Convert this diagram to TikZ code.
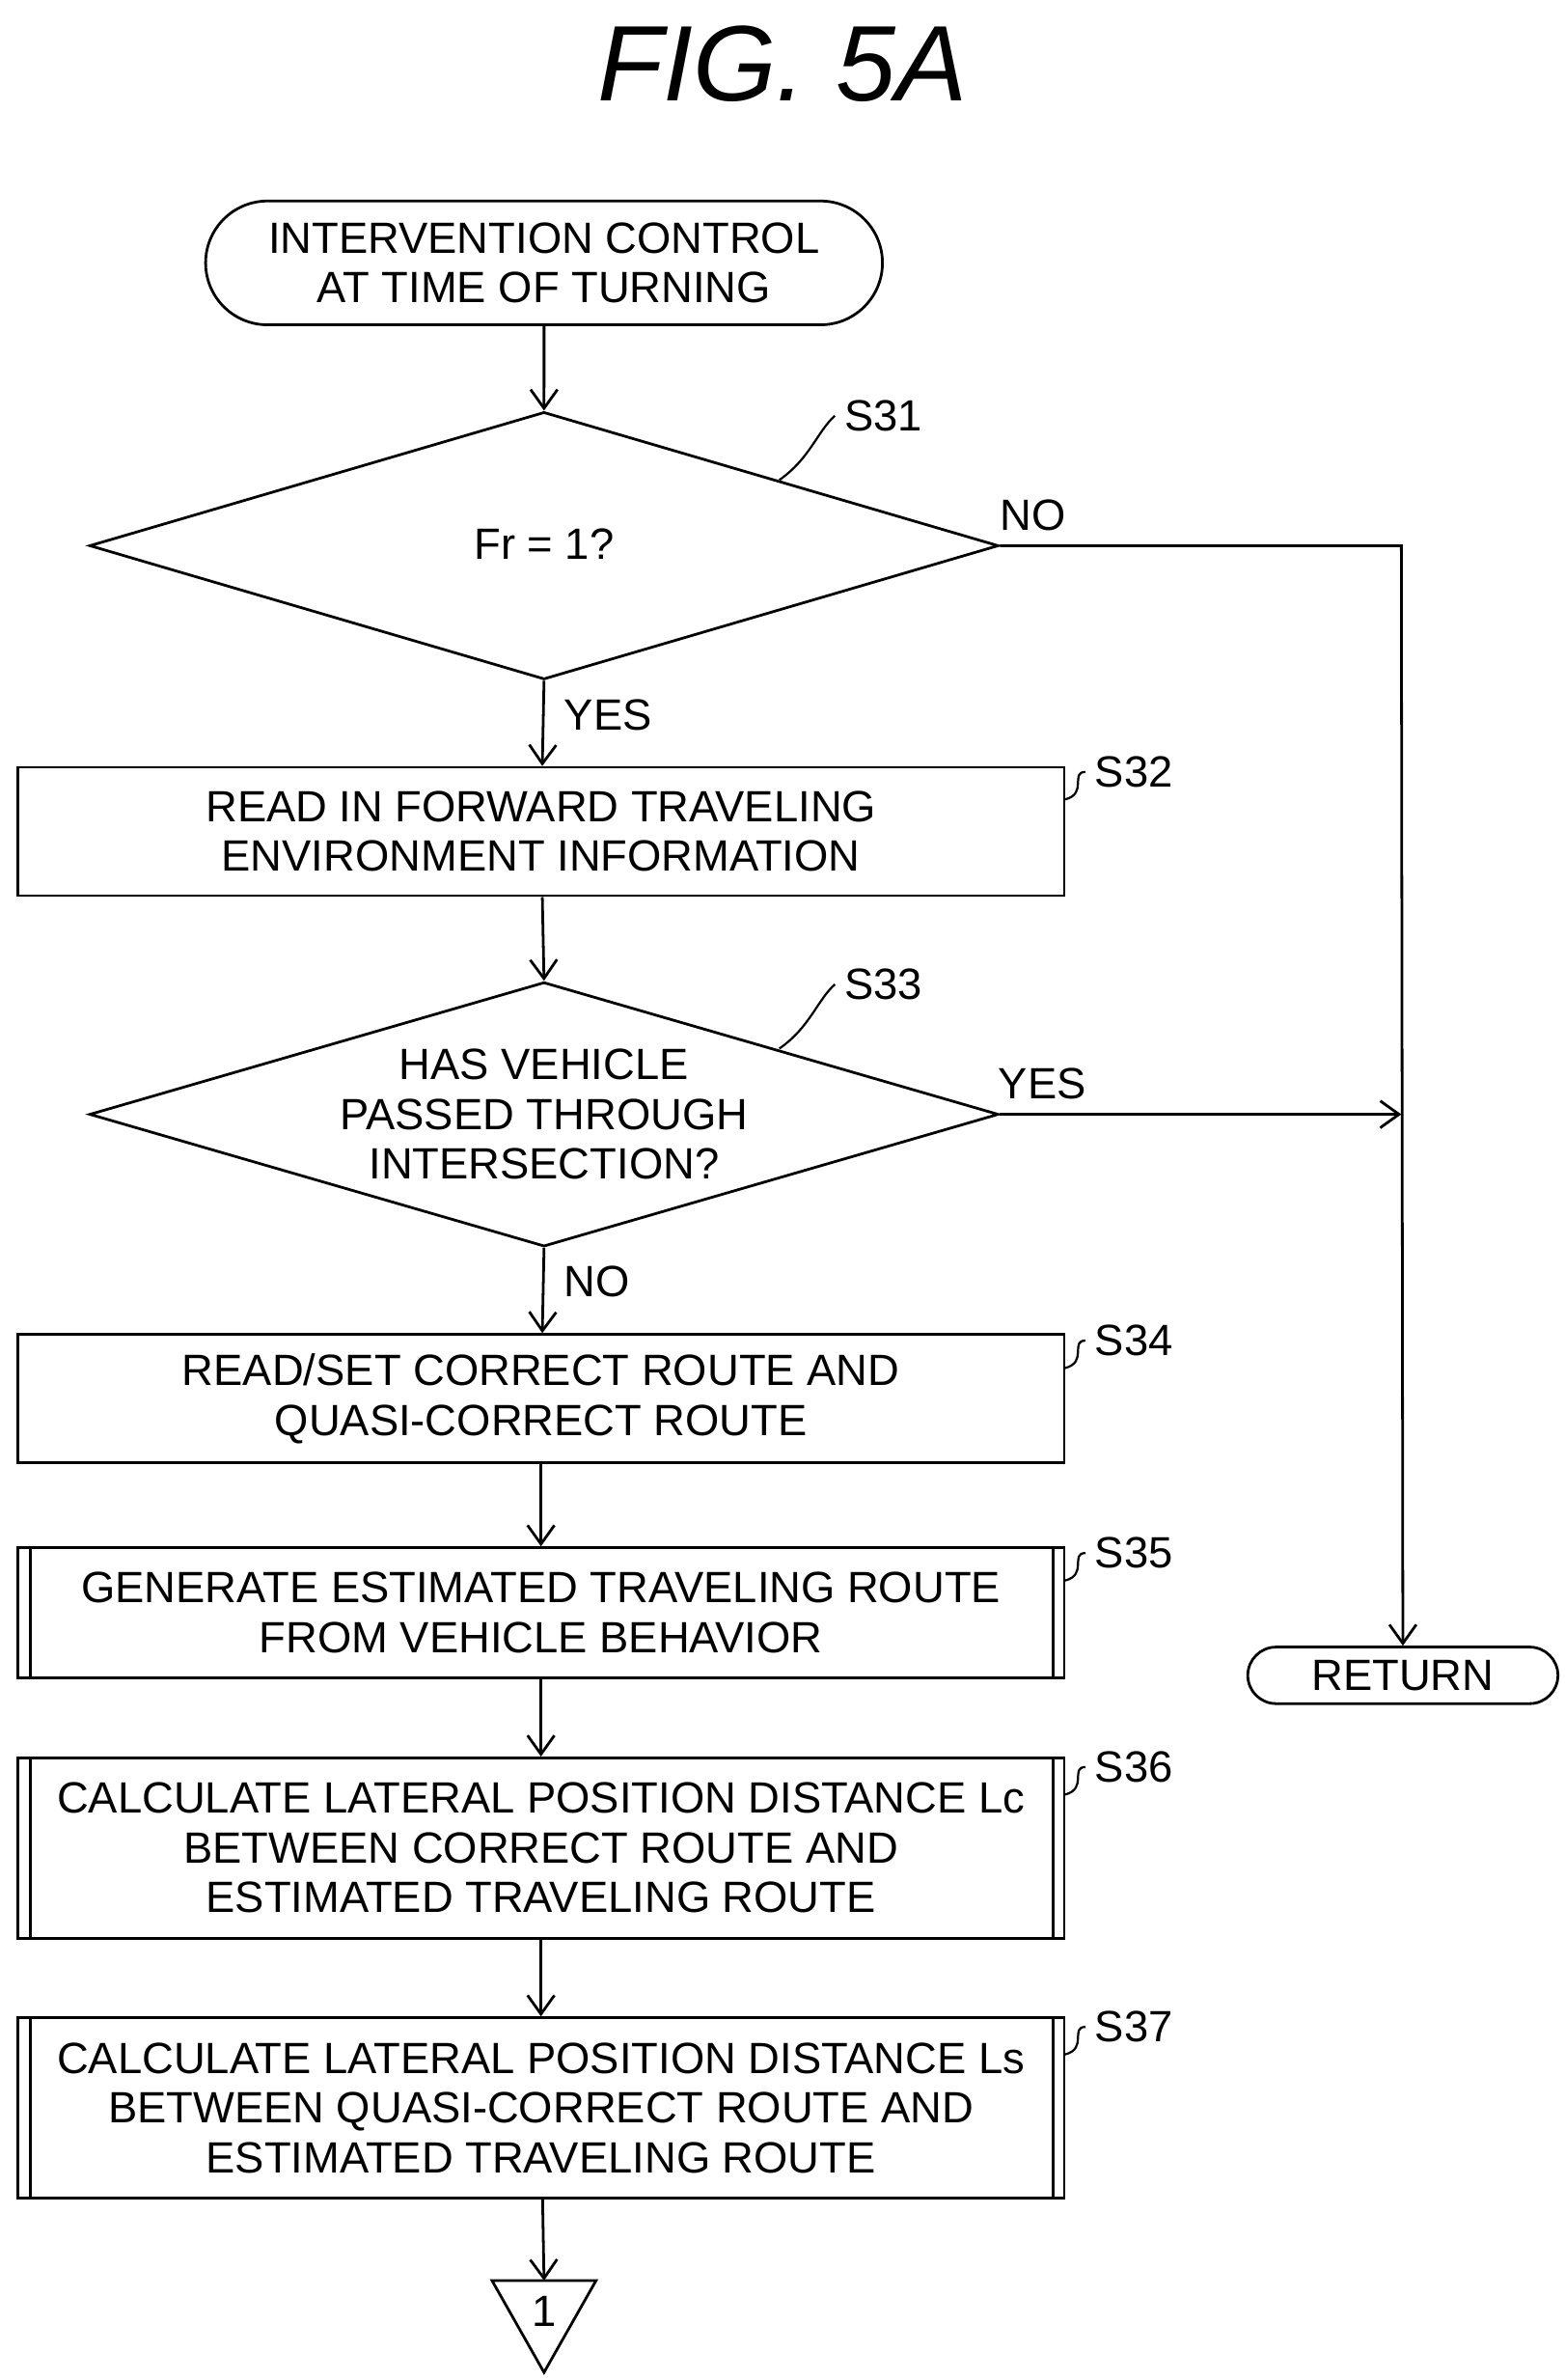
\documentclass[tikz,border=0pt]{standalone}
\usepackage{fontspec}
\setmainfont{Liberation Sans}
\usetikzlibrary{shapes.geometric,shapes.misc,positioning,arrows.meta}
\tikzset{
  every node/.style={font=\fontsize{16.3}{18.5}\selectfont},
  box/.style={draw,line width=1pt,minimum width=13.7cm,align=center,inner sep=0pt},
  term/.style={draw,line width=1pt,rounded rectangle,align=center,inner sep=0pt},
  flow/.style={-{Straight Barb[length=7pt,width=10pt]},line width=1pt},
  lead/.style={line width=0.8pt}
}
\begin{document}
\begin{tikzpicture}[x=0.02cm,y=-0.02cm]
\useasboundingbox (0,0) rectangle (1024,1557);
\node[font=\itshape\fontsize{40}{44}\selectfont] (title) at (512,42) {FIG. 5A};
% start
\node[term,minimum width=8.86cm,minimum height=1.62cm] (start) at (356,172) {INTERVENTION CONTROL\\AT TIME OF TURNING};
% S31
\node[draw,line width=1pt,diamond,aspect=3.4,minimum width=11.9cm,minimum height=3.5cm,inner sep=0pt] (d31) at (356,357) {};
\node (t31) at (356,356) {Fr = 1?};
\node (l31) at (578,272) {S31};
% S32
\node[box,minimum height=1.68cm] (s32) at (354,544) {READ IN FORWARD TRAVELING\\ENVIRONMENT INFORMATION};
\node (l32) at (742,505) {S32};
% S33
\node[draw,line width=1pt,diamond,aspect=3.4,minimum width=11.9cm,minimum height=3.46cm,inner sep=0pt] (d33) at (356,729) {};
\node[align=center] (t33) at (356,729) {HAS VEHICLE\\PASSED THROUGH\\INTERSECTION?};
\node (l33) at (578,644) {S33};
% S34
\node[box,minimum height=1.68cm] (s34) at (354,915) {READ/SET CORRECT ROUTE AND\\QUASI-CORRECT ROUTE};
\node (l34) at (742,877) {S34};
% S35
\node[box,minimum height=1.7cm] (s35) at (354,1055) {GENERATE ESTIMATED TRAVELING ROUTE\\FROM VEHICLE BEHAVIOR};
\draw[line width=1pt] (20,1012) -- (20,1098) (689,1012) -- (689,1098);
\node (l35) at (742,1016) {S35};
% S36
\node[box,minimum height=2.36cm] (s36) at (354,1209) {CALCULATE LATERAL POSITION DISTANCE Lc\\BETWEEN CORRECT ROUTE AND\\ESTIMATED TRAVELING ROUTE};
\draw[line width=1pt] (20,1150) -- (20,1268) (689,1150) -- (689,1268);
\node (l36) at (742,1156) {S36};
% S37
\node[box,minimum height=2.36cm] (s37) at (354,1379) {CALCULATE LATERAL POSITION DISTANCE Ls\\BETWEEN QUASI-CORRECT ROUTE AND\\ESTIMATED TRAVELING ROUTE};
\draw[line width=1pt] (20,1320) -- (20,1438) (689,1320) -- (689,1438);
\node (l37) at (742,1326) {S37};
% connector and return
\draw[line width=1pt] (322,1492) coordinate (c1) -- (390,1492) -- (356,1552) -- cycle;
\coordinate (c1top) at (356,1492);
\node (one) at (356,1512) {1};
\node[term,minimum width=4.06cm,minimum height=0.74cm] (ret) at (918,1096) {RETURN};
\coordinate (j31) at (917,357);
\coordinate (j33) at (917,729);
% flow
\draw[flow] (start) -- (d31.north);
\draw[flow] (d31.south) -- (s32) node[pos=0.4,right=4pt] {YES};
\draw[flow] (s32) -- (d33.north);
\draw[flow] (d33.south) -- (s34) node[pos=0.4,right=4pt] {NO};
\draw[flow] (s34) -- (s35);
\draw[flow] (s35) -- (s36);
\draw[flow] (s36) -- (s37);
\draw[flow] (s37) -- (c1top);
\draw[flow] (d31.east) -- (j31) -- (ret.north);
\node at (676,337) {NO};
\draw[flow] (d33.east) -- (j33);
\node at (682,709) {YES};
% leaders
\draw[lead] (l31.west) .. controls (535,282) and (530,300) .. (510,314);
\draw[lead] (l33.west) .. controls (535,654) and (530,672) .. (510,686);
\foreach \s/\y in {l32/505,l34/877,l35/1016,l36/1156,l37/1326}
  \draw[lead] (\s.west) .. controls (700,\y) and (712,\y+14) .. (697,\y+18);
\end{tikzpicture}
\end{document}
